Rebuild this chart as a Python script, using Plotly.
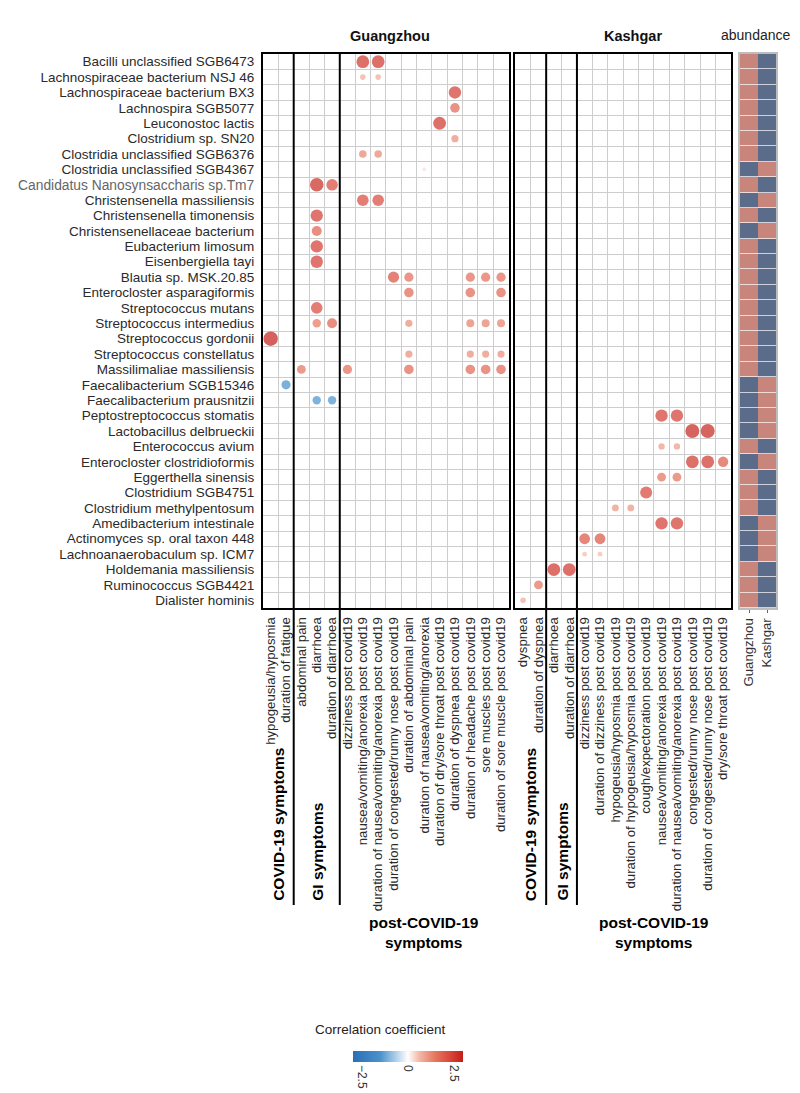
import plotly.graph_objects as go

# ---------------- data ----------------
species = [
    "Bacilli unclassified SGB6473", "Lachnospiraceae bacterium NSJ 46", "Lachnospiraceae bacterium BX3",
    "Lachnospira SGB5077", "Leuconostoc lactis", "Clostridium sp. SN20", "Clostridia unclassified SGB6376",
    "Clostridia unclassified SGB4367", "Candidatus Nanosynsaccharis sp.Tm7", "Christensenella massiliensis",
    "Christensenella timonensis", "Christensenellaceae bacterium", "Eubacterium limosum", "Eisenbergiella tayi",
    "Blautia sp. MSK.20.85", "Enterocloster asparagiformis", "Streptococcus mutans", "Streptococcus intermedius",
    "Streptococcus gordonii", "Streptococcus constellatus", "Massilimaliae massiliensis",
    "Faecalibacterium SGB15346", "Faecalibacterium prausnitzii", "Peptostreptococcus stomatis",
    "Lactobacillus delbrueckii", "Enterococcus avium", "Enterocloster clostridioformis", "Eggerthella sinensis",
    "Clostridium SGB4751", "Clostridium methylpentosum", "Amedibacterium intestinale",
    "Actinomyces sp. oral taxon 448", "Lachnoanaerobaculum sp. ICM7", "Holdemania massiliensis",
    "Ruminococcus SGB4421", "Dialister hominis",
]

gz_symptoms = [
    "hypogeusia/hyposmia", "duration of fatigue",
    "abdominal pain", "diarrhoea", "duration of diarrhoea",
    "dizziness post covid19", "nausea/vomiting/anorexia post covid19",
    "duration of nausea/vomiting/anorexia post covid19", "duration of congested/runny nose post covid19",
    "duration of abdominal pain", "duration of nausea/vomiting/anorexia",
    "duration of dry/sore throat post covid19", "duration of dyspnea post covid19",
    "duration of headache post covid19", "sore muscles post covid19", "duration of sore muscle post covid19",
]
gz_group_names = ["COVID-19 symptoms", "GI symptoms", "post-COVID-19<br>symptoms"]
gz_group_sizes = [2, 3, 11]

kg_symptoms = [
    "dyspnea", "duration of dyspnea",
    "diarrhoea", "duration of diarrhoea",
    "dizziness post covid19", "duration of dizziness post covid19", "hypogeusia/hyposmia post covid19",
    "duration of hypogeusia/hyposmia post covid19", "cough/expectoration post covid19",
    "nausea/vomiting/anorexia post covid19", "duration of nausea/vomiting/anorexia post covid19",
    "congested/runny nose post covid19", "duration of congested/runny nose post covid19",
    "dry/sore throat post covid19",
]
kg_group_names = ["COVID-19 symptoms", "GI symptoms", "post-COVID-19<br>symptoms"]
kg_group_sizes = [2, 2, 10]

S = species
G = gz_symptoms
K = kg_symptoms

# Guangzhou significant associations: (species, symptom, coefficient)
gz_pt_species = [
    S[0], S[0], S[1], S[1], S[2], S[3], S[4], S[5], S[6], S[6], S[7],
    S[8], S[8], S[9], S[9], S[10], S[11], S[12], S[13],
    S[14], S[14], S[14], S[14], S[14],
    S[15], S[15], S[15],
    S[16],
    S[17], S[17], S[17], S[17], S[17], S[17],
    S[18],
    S[19], S[19], S[19], S[19],
    S[20], S[20], S[20], S[20], S[20], S[20],
    S[21], S[22], S[22],
]
gz_pt_symptom = [
    G[6], G[7], G[6], G[7], G[12], G[12], G[11], G[12], G[6], G[7], G[10],
    G[3], G[4], G[6], G[7], G[3], G[3], G[3], G[3],
    G[8], G[9], G[13], G[14], G[15],
    G[9], G[13], G[15],
    G[3],
    G[3], G[4], G[9], G[13], G[14], G[15],
    G[0],
    G[9], G[13], G[14], G[15],
    G[2], G[5], G[9], G[13], G[14], G[15],
    G[1], G[3], G[4],
]
gz_pt_coef = [
    2.6, 2.6, 0.8, 0.8, 2.5, 1.8, 2.6, 1.2, 1.3, 1.3, 0.3,
    2.8, 2.3, 2.3, 2.3, 2.5, 1.9, 2.5, 2.5,
    2.2, 1.7, 1.7, 1.7, 1.7,
    1.8, 1.8, 1.8,
    2.3,
    1.5, 1.9, 1.2, 1.4, 1.4, 1.4,
    3.0,
    1.2, 1.2, 1.2, 1.2,
    1.6, 1.7, 1.8, 1.8, 1.8, 1.8,
    -1.7, -1.5, -1.5,
]

# Kashgar significant associations
kg_pt_species = [
    S[23], S[23], S[24], S[24], S[25], S[25], S[26], S[26], S[26],
    S[27], S[27], S[28], S[29], S[29], S[30], S[30],
    S[31], S[31], S[32], S[32], S[33], S[33], S[34], S[35],
]
kg_pt_symptom = [
    K[9], K[10], K[11], K[12], K[9], K[10], K[11], K[12], K[13],
    K[9], K[10], K[8], K[6], K[7], K[9], K[10],
    K[4], K[5], K[4], K[5], K[2], K[3], K[1], K[0],
]
kg_pt_coef = [
    2.5, 2.5, 2.9, 2.9, 1.0, 1.0, 2.6, 2.6, 2.0,
    1.6, 1.6, 2.4, 1.1, 1.1, 2.5, 2.5,
    2.1, 2.1, 0.6, 0.6, 2.6, 2.6, 1.6, 0.8,
]

# abundance: region in which each species is enriched
regions = ["Guangzhou", "Kashgar"]
enriched_in = (
    ["Guangzhou"] * 7 + ["Kashgar", "Guangzhou", "Kashgar", "Guangzhou", "Kashgar"]
    + ["Guangzhou"] * 9 + ["Kashgar"] * 4 + ["Guangzhou", "Kashgar"]
    + ["Guangzhou"] * 3 + ["Kashgar"] * 3 + ["Guangzhou"] * 3
)

# ---------------- layout helpers ----------------
W, H = 800, 1093
def px(v):
    return v / W
def py(v):
    return 1 - v / H

PANEL_TOP, PANEL_BOT = 46, 600
GZ_X = (255, 500.7)
KG_X = (507.4, 722.8)
AB_X = (732, 768)
SEP_BOTTOM = 897
FONT = "Liberation Sans, Arial, sans-serif"

def marker_size(v):
    return 2.4 + 4.0 * abs(v)

fig = go.Figure()

fig.add_trace(go.Scatter(
    x=[G.index(c) for c in gz_pt_symptom],
    y=[S.index(s) for s in gz_pt_species],
    mode="markers",
    marker=dict(size=[marker_size(v) for v in gz_pt_coef], color=gz_pt_coef,
                coloraxis="coloraxis", line=dict(width=0)),
    xaxis="x", yaxis="y", showlegend=False, hoverinfo="skip",
))
fig.add_trace(go.Scatter(
    x=[K.index(c) for c in kg_pt_symptom],
    y=[S.index(s) for s in kg_pt_species],
    mode="markers",
    marker=dict(size=[marker_size(v) for v in kg_pt_coef], color=kg_pt_coef,
                coloraxis="coloraxis", line=dict(width=0)),
    xaxis="x2", yaxis="y2", showlegend=False, hoverinfo="skip",
))
fig.add_trace(go.Heatmap(
    z=[[1 if r == e else 0 for r in regions] for e in enriched_in],
    x=list(range(len(regions))), y=list(range(len(species))),
    colorscale=[[0, "#5B6B8A"], [1, "#C8857C"]], zmin=0, zmax=1,
    showscale=False, ygap=0.7, xgap=0, hoverinfo="skip",
    xaxis="x3", yaxis="y3",
))

grid_col = "#CDCDCD"

def xaxis_cfg(dom, labels):
    n = len(labels)
    return dict(
        domain=[px(dom[0]), px(dom[1])], range=[-0.5, n - 0.5],
        tickmode="array", tickvals=list(range(n)), ticktext=labels,
        tickangle=-90, tickfont=dict(size=13.2, color="#2a2a2a", family=FONT),
        ticks="", showgrid=False, zeroline=False,
        minor=dict(tickmode="array", tickvals=[i - 0.5 for i in range(n + 1)],
                   showgrid=True, gridcolor=grid_col, gridwidth=1.2, ticks=""),
        showline=True, mirror=True, linewidth=2, linecolor="black",
        automargin=False, ticklabelstandoff=2, fixedrange=True,
    )

def yaxis_cfg(anchor, show):
    n = len(species)
    cfg = dict(
        domain=[py(PANEL_BOT), py(PANEL_TOP)], range=[n - 0.5, -0.5],
        tickmode="array", tickvals=list(range(n)),
        ticktext=[("<span style='color:#666;font-size:13.8px'>%s</span>" % s) if s.startswith("Candidatus") else s
                  for s in species],
        showticklabels=show, tickfont=dict(size=13.5, color="#2a2a2a", family=FONT),
        ticks="", showgrid=False, zeroline=False,
        minor=dict(tickmode="array", tickvals=[i - 0.5 for i in range(n + 1)],
                   showgrid=True, gridcolor=grid_col, gridwidth=1.2, ticks=""),
        showline=True, mirror=True, linewidth=2, linecolor="black",
        anchor=anchor, automargin=False, ticklabelstandoff=4, fixedrange=True,
    )
    return cfg

ab_y = yaxis_cfg("x3", False)
ab_y.update(minor=dict(showgrid=False), linecolor="#BDBDBD", linewidth=2)

fig.update_layout(
    width=W, height=H, autosize=False,
    margin=dict(l=0, r=0, t=0, b=0),
    paper_bgcolor="white", plot_bgcolor="white",
    font=dict(family=FONT, color="#222"),
    xaxis=dict(xaxis_cfg(GZ_X, gz_symptoms), anchor="y"),
    xaxis2=dict(xaxis_cfg(KG_X, kg_symptoms), anchor="y2"),
    xaxis3=dict(
        domain=[px(AB_X[0]), px(AB_X[1])], range=[-0.5, 1.5], anchor="y3",
        tickmode="array", tickvals=[0, 1], ticktext=regions, tickangle=-90,
        tickfont=dict(size=13.2, color="#333", family=FONT),
        ticks="outside", ticklen=3, tickcolor="#666", tickwidth=1,
        showgrid=False, zeroline=False, showline=True, mirror=True,
        linewidth=2, linecolor="#BDBDBD", automargin=False, fixedrange=True,
    ),
    yaxis=yaxis_cfg("x", True),
    yaxis2=yaxis_cfg("x2", False),
    yaxis3=ab_y,
    coloraxis=dict(
        cmin=-3, cmax=3,
        colorscale=[[0, "#2A6FB5"], [0.25, "#4A93CC"], [0.5, "#FFFFFF"], [0.6, "#F3B9A8"],
                    [0.75, "#E5755F"], [0.88, "#D9483A"], [1, "#C21E18"]],
        colorbar=dict(
            orientation="h", x=px(345), xanchor="left", y=py(1043), yanchor="top",
            len=110, lenmode="pixels", thickness=11, thicknessmode="pixels",
            xpad=0, ypad=0, outlinewidth=0, tickvals=[-2.5, 0, 2.5], tickangle=90,
            tickfont=dict(size=12, color="#333", family=FONT), ticks="",
        ),
    ),
)

shapes = []
annotations = []

def add_groups(names, sizes, xref):
    start = 0
    for i, (name, size) in enumerate(zip(names, sizes)):
        center = start + (size - 1) / 2
        if i < len(names) - 1:
            shapes.append(dict(type="line", xref=xref, yref="paper",
                               x0=start + size - 0.5, x1=start + size - 0.5,
                               y0=py(SEP_BOTTOM), y1=py(PANEL_TOP),
                               line=dict(color="black", width=2)))
        if size <= 3:
            annotations.append(dict(text="<b>%s</b>" % name, xref=xref, yref="paper",
                                    x=center, y=py(SEP_BOTTOM - 2), xanchor="center", yanchor="bottom",
                                    textangle=-90, showarrow=False,
                                    font=dict(size=15.5, color="black", family=FONT)))
        else:
            annotations.append(dict(text="<b>%s</b>" % name, xref=xref, yref="paper",
                                    x=center, y=py(SEP_BOTTOM + 7), xanchor="center", yanchor="top",
                                    showarrow=False,
                                    font=dict(size=15.5, color="black", family=FONT)))
        start += size

add_groups(gz_group_names, gz_group_sizes, "x")
add_groups(kg_group_names, kg_group_sizes, "x2")

annotations += [
    dict(text="<b>Guangzhou</b>", xref="paper", yref="paper", x=px(382), y=py(28),
         xanchor="center", yanchor="middle", showarrow=False,
         font=dict(size=14.5, color="#111", family=FONT)),
    dict(text="<b>Kashgar</b>", xref="paper", yref="paper", x=px(625), y=py(28),
         xanchor="center", yanchor="middle", showarrow=False,
         font=dict(size=14.5, color="#111", family=FONT)),
    dict(text="abundance", xref="paper", yref="paper", x=px(748), y=py(27),
         xanchor="center", yanchor="middle", showarrow=False,
         font=dict(size=14, color="#222", family=FONT)),
    dict(text="Correlation coefficient", xref="paper", yref="paper", x=px(305), y=py(1022),
         xanchor="left", yanchor="middle", showarrow=False,
         font=dict(size=13.5, color="#222", family=FONT)),
]

fig.update_layout(shapes=shapes, annotations=annotations)
fig.write_html("out.html")
